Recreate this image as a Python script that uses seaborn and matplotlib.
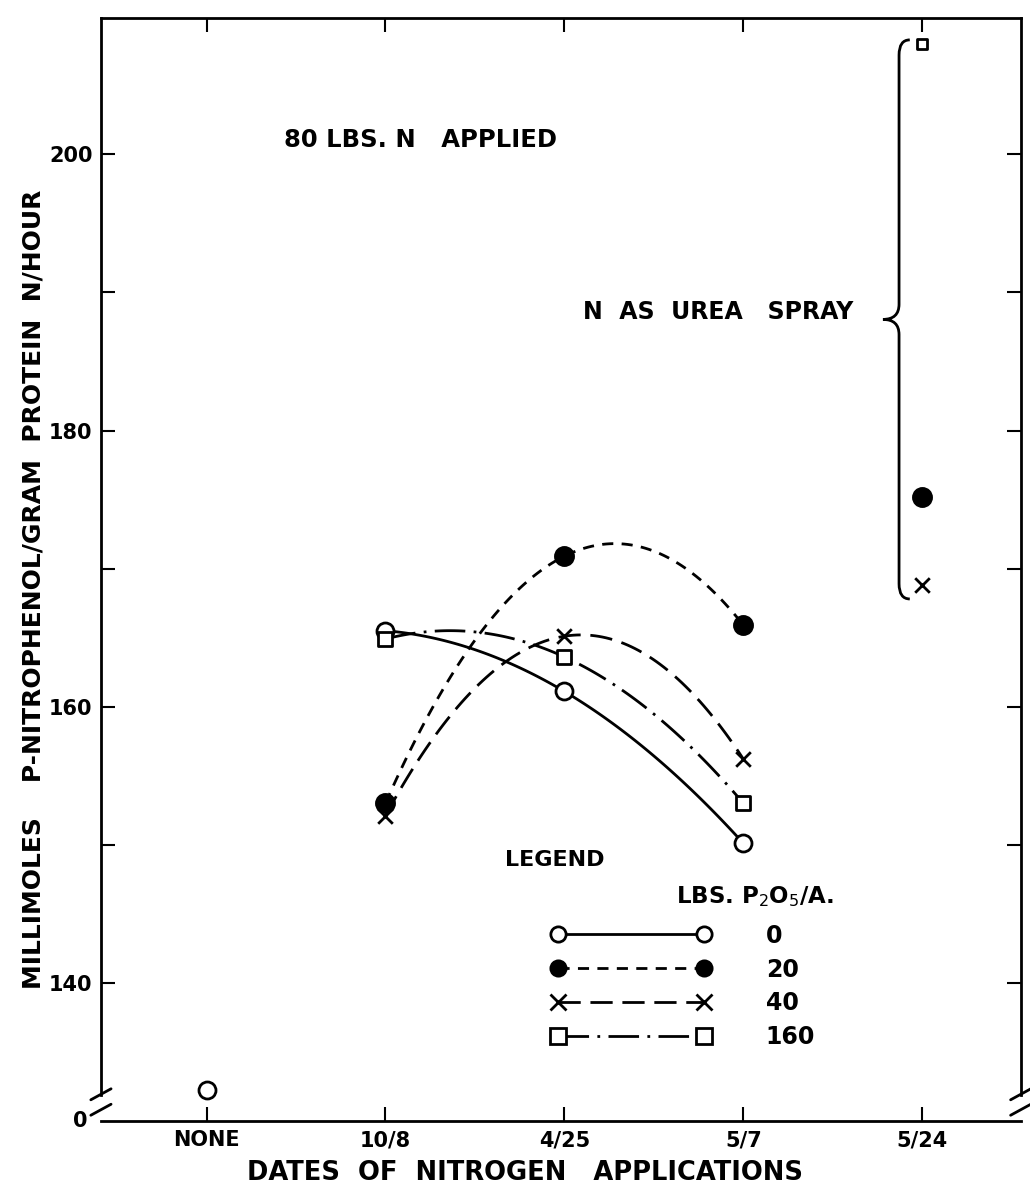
"""
Phosphatase activity vs. date of nitrogen application (80 lbs N applied).
"""

import matplotlib
matplotlib.use("Agg")
import matplotlib.pyplot as plt
from matplotlib.lines import Line2D
from matplotlib.path import Path
from matplotlib.patches import PathPatch
import seaborn as sns

# Category labels along the x axis
dates = ["NONE", "10/8", "4/25", "5/7", "5/24"]

# Soil-applied nitrogen, one series per P2O5 rate
soil_dates = ["10/8", "4/25", "5/7"]
p0_values = [165.5, 161.1, 150.1]
p20_values = [153.0, 170.9, 165.9]
p40_values = [152.1, 165.1, 156.2]
p160_values = [164.9, 163.6, 153.0]

# Check plot, no nitrogen
none_value = 132.2

# Nitrogen as urea spray on 5/24
urea_rates = ["160", "20", "40"]
urea_values = [208.0, 175.2, 168.8]

p_rates = ["0", "20", "40", "160"]
y_ticks = [140, 160, 180, 200]
y_minor = [150, 170, 190]


# marker / fill / dash for each P2O5 rate
STYLES = {
    "0": dict(marker="o", fc="white", ls="-", s=150),
    "20": dict(marker="o", fc="black", ls=(0, (4, 3)), s=170),
    "40": dict(marker="x", fc="black", ls=(0, (8, 3.5)), s=110),
    "160": dict(marker="s", fc="white", ls=(0, (11, 3, 1, 3)), s=100),
}


def draw_markers(ax, xs, ys, rate, s=None):
    """Scatter the points of one P2O5 rate."""
    st = STYLES[rate]
    size = s if s is not None else st["s"]
    if st["marker"] == "x":
        sns.scatterplot(x=xs, y=ys, marker="x", s=size, color="black",
                        linewidth=2, zorder=5, ax=ax, legend=False)
    else:
        sns.scatterplot(x=xs, y=ys, marker=st["marker"], s=size, color=st["fc"],
                        edgecolor="black", linewidth=2, zorder=5, ax=ax, legend=False)


def draw_brace(ax, x, top, bottom):
    """Curly brace to the left of the urea points."""
    mid = (top + bottom) / 2
    h = 1.1
    tip = x - 0.09
    hook = x + 0.06
    verts = [
        (hook, top), (x, top), (x, top - h),
        (x, mid + h),
        (x, mid), (tip, mid),
        (x, mid), (x, mid - h),
        (x, bottom + h),
        (x, bottom), (hook, bottom),
    ]
    codes = [Path.MOVETO, Path.CURVE3, Path.CURVE3,
             Path.LINETO,
             Path.CURVE3, Path.CURVE3,
             Path.CURVE3, Path.CURVE3,
             Path.LINETO,
             Path.CURVE3, Path.CURVE3]
    ax.add_patch(PathPatch(Path(verts, codes), fill=False, lw=2, color="black"))


def draw_breaks(ax):
    """Axis break marks at the two bottom corners."""
    kw = dict(transform=ax.transAxes, color="black", lw=2, clip_on=False)
    for xc in (0.0, 1.0):
        for yc in (0.024, 0.010):
            ax.plot([xc - 0.011, xc + 0.011], [yc - 0.005, yc + 0.005], **kw)
    ax.text(-0.015, 0.0, "0", transform=ax.transAxes, ha="right", va="center",
            fontsize=15, fontweight="bold")


def plot_figure():
    sns.set_style("ticks", rc={
        "axes.edgecolor": "black", "text.color": "black",
        "axes.labelcolor": "black", "xtick.color": "black", "ytick.color": "black",
    })
    plt.rcParams["font.family"] = ["DejaVu Sans"]

    fig = plt.figure(figsize=(10.3, 11.86), dpi=100)
    ax = fig.add_axes([0.098, 0.055, 0.893, 0.930])

    # soil applied series, smooth quadratic through the three dates
    soil_x = [dates.index(d) for d in soil_dates]
    series = {"0": p0_values, "20": p20_values, "40": p40_values, "160": p160_values}
    for rate, vals in series.items():
        st = STYLES[rate]
        sns.regplot(x=soil_x, y=vals, order=2, ci=None, scatter=False, truncate=True,
                    color="black", line_kws=dict(lw=2, ls=st["ls"]), ax=ax)
        draw_markers(ax, soil_x, vals, rate)

    # no nitrogen check
    draw_markers(ax, [dates.index("NONE")], [none_value], "0")

    # urea spray points
    x_urea = dates.index("5/24")
    for rate, val in zip(urea_rates, urea_values):
        small = 60 if rate == "160" else None
        draw_markers(ax, [x_urea], [val], rate, s=small)
    draw_brace(ax, x_urea - 0.13, max(urea_values) + 0.3, min(urea_values) - 1.0)

    # axes
    ax.set_xlim(-0.59, 4.55)
    ax.set_ylim(130.0, 209.9)
    ax.set_xticks(range(len(dates)))
    ax.set_xticklabels(dates, fontsize=15, fontweight="bold")
    ax.set_yticks(y_ticks)
    ax.set_yticklabels([str(t) for t in y_ticks], fontsize=15, fontweight="bold")
    ax.set_yticks(y_minor, minor=True)
    ax.tick_params(axis="x", direction="in", top=True, length=10, width=1.5, pad=7)
    ax.tick_params(axis="y", which="both", direction="in", right=True,
                   length=10, width=1.5, pad=6)
    for side in ax.spines.values():
        side.set_linewidth(2)
    ax.spines["left"].set_bounds(131.9, 209.9)
    ax.spines["right"].set_bounds(131.9, 209.9)
    draw_breaks(ax)

    ax.set_xlabel("DATES  OF  NITROGEN   APPLICATIONS", fontsize=18.5, fontweight="bold")
    ax.xaxis.set_label_coords(0.461, -0.036)
    ax.set_ylabel("MILLIMOLES    P-NITROPHENOL/GRAM  PROTEIN  N/HOUR",
                  fontsize=18, fontweight="bold")
    ax.yaxis.set_label_coords(-0.060, 0.482)

    # annotations
    ax.text(0.347, 0.889, "80 LBS. N   APPLIED", transform=ax.transAxes,
            ha="center", va="center", fontsize=17.5, fontweight="bold")
    ax.text(0.671, 0.733, "N  AS  UREA   SPRAY", transform=ax.transAxes,
            ha="center", va="center", fontsize=17, fontweight="bold")

    # legend
    ax.text(0.493, 0.236, "LEGEND", transform=ax.transAxes,
            ha="center", va="center", fontsize=16, fontweight="bold")
    ax.text(0.711, 0.203, "LBS. P$_2$O$_5$/A.", transform=ax.transAxes,
            ha="center", va="center", fontsize=16.5, fontweight="bold")
    handles = []
    for rate in p_rates:
        st = STYLES[rate]
        handles.append(Line2D([], [], color="black", lw=2, ls=st["ls"],
                              marker=st["marker"], markersize=11,
                              markerfacecolor=st["fc"], markeredgecolor="black",
                              markeredgewidth=2))
    ax.legend(handles, p_rates, loc="upper left", bbox_to_anchor=(0.466, 0.198),
              frameon=False, numpoints=2, handlelength=6.8, handletextpad=2.3,
              labelspacing=0.42, prop=dict(size=17, weight="bold"))

    fig.savefig("out.png", dpi=100)
    plt.close(fig)


def main():
    plot_figure()


if __name__ == "__main__":
    main()
